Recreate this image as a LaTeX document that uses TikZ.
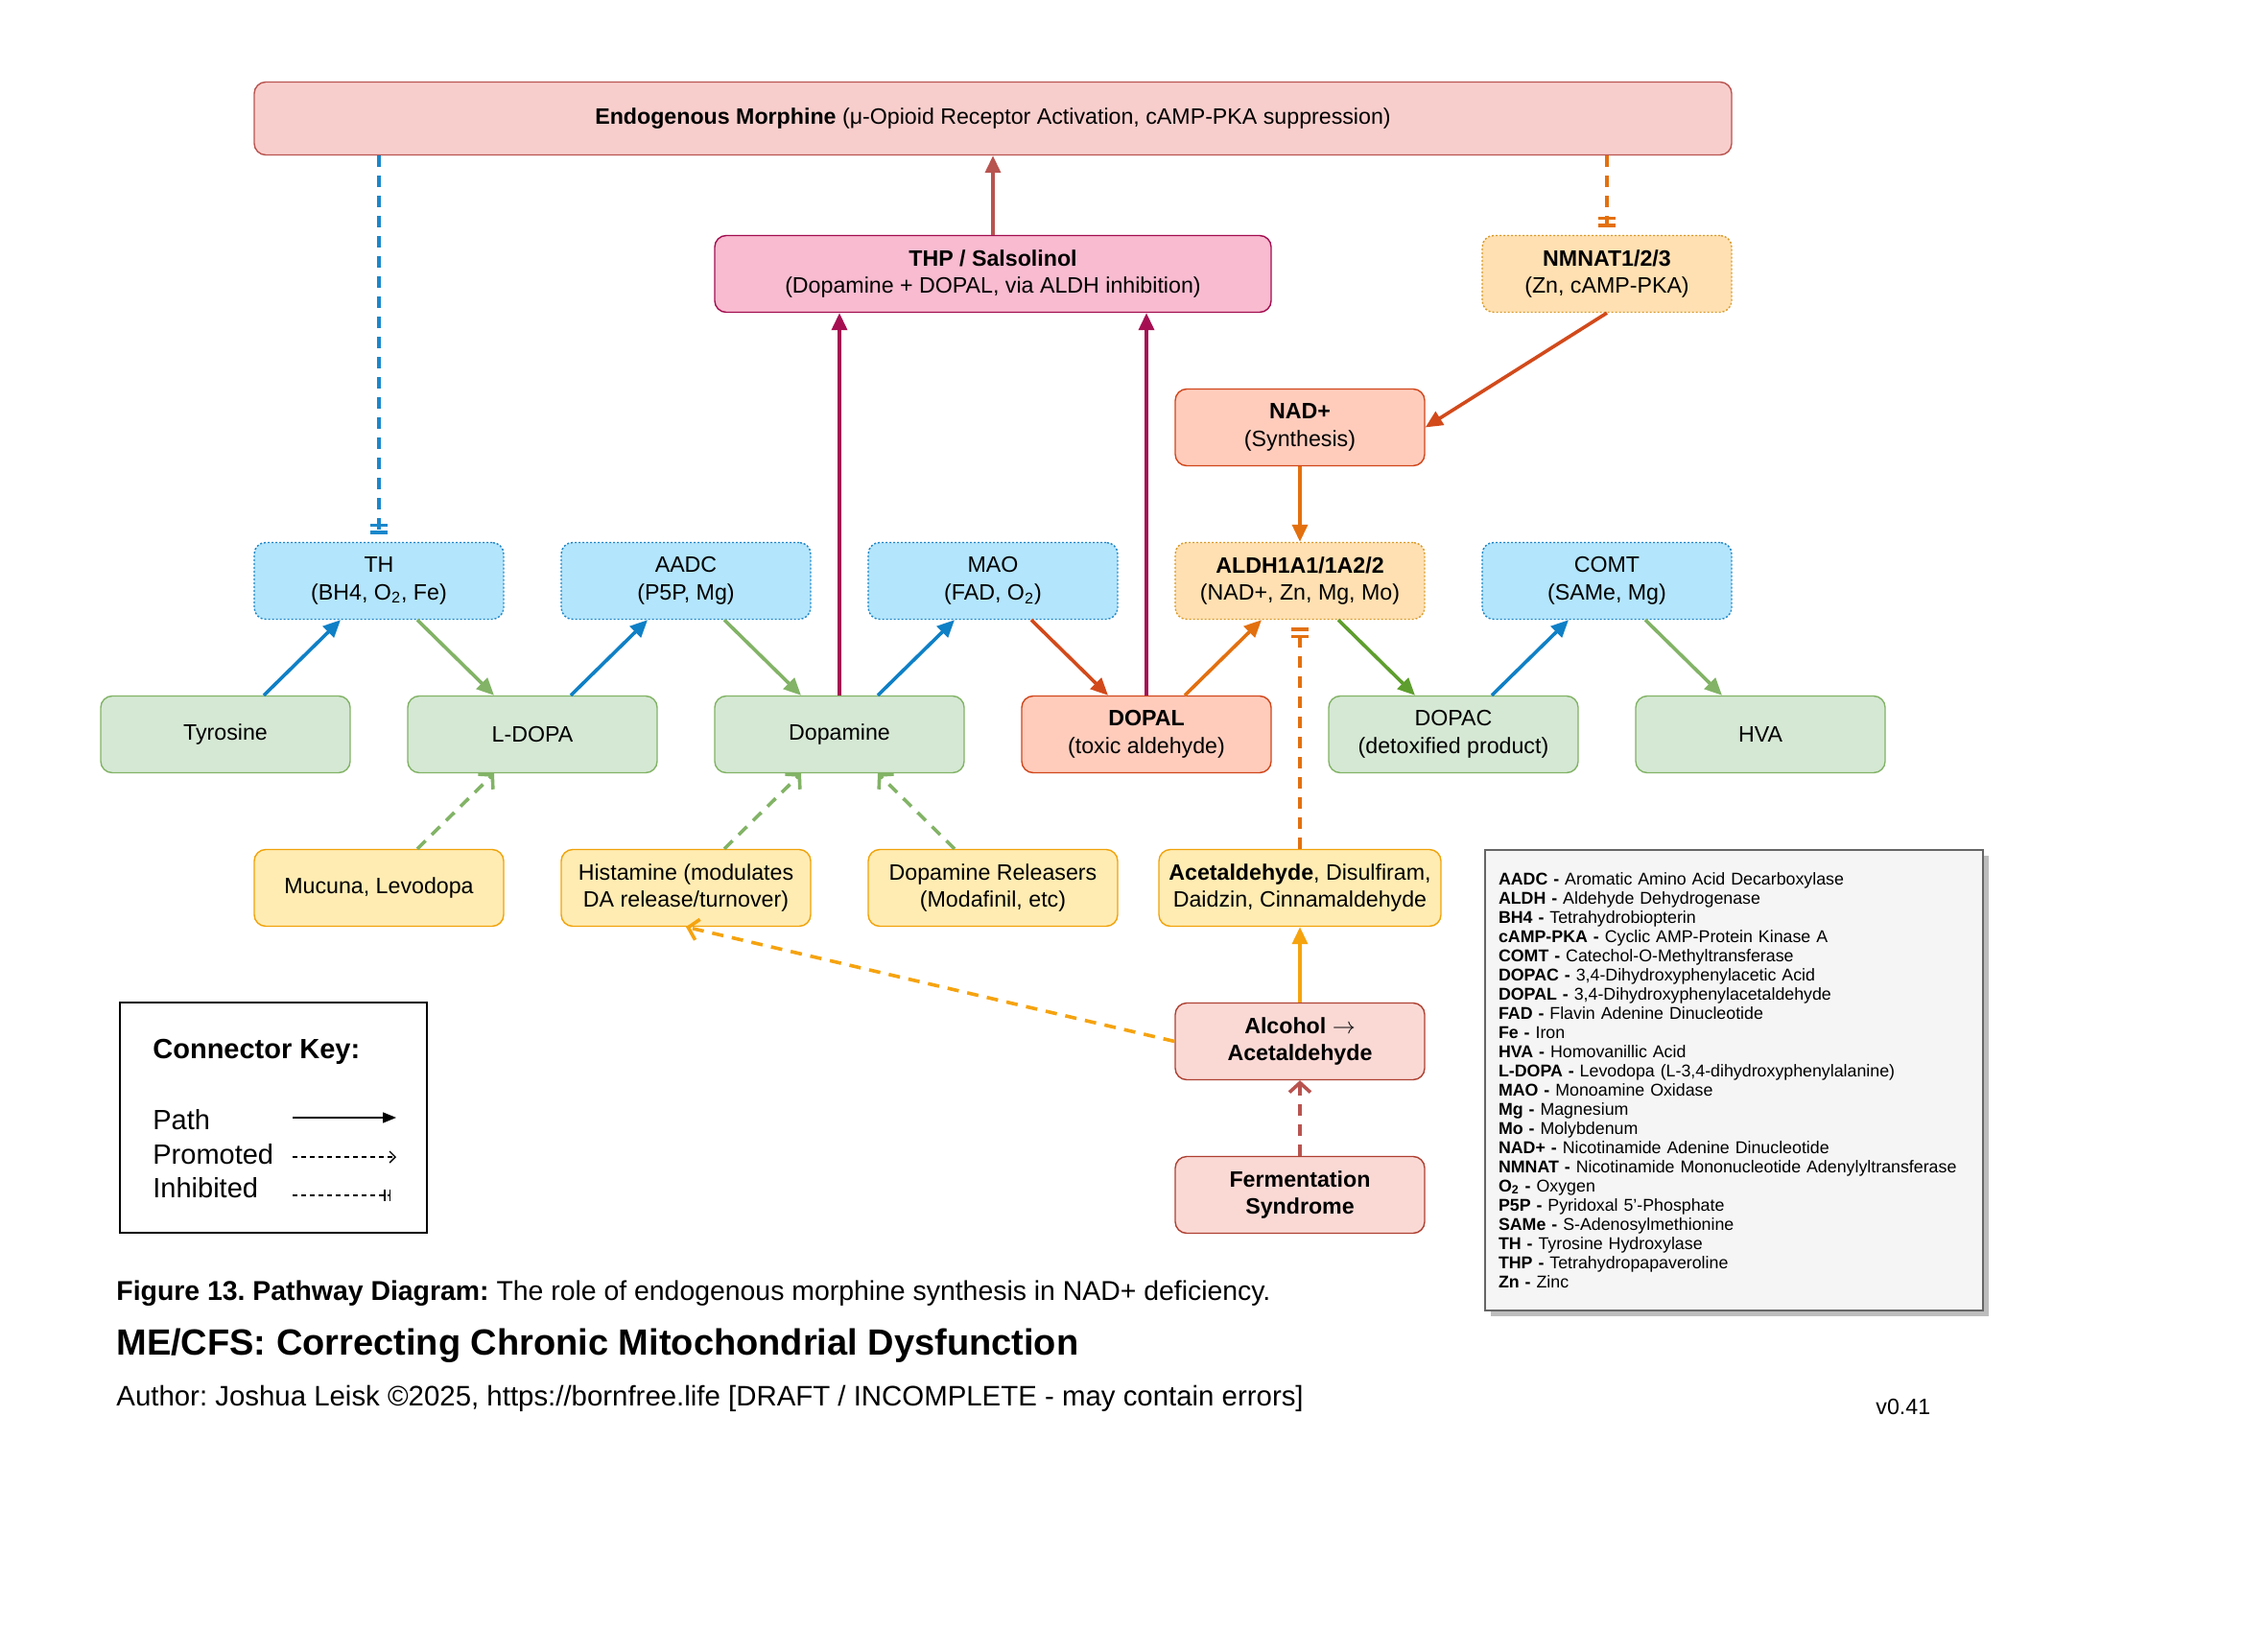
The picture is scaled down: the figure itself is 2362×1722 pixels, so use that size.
\documentclass[tikz,border=0pt]{standalone}
\usepackage{fontspec}
\setmainfont{Liberation Sans}
\usetikzlibrary{arrows.meta,shadows}

\definecolor{subfill}{HTML}{D5E8D4}
\definecolor{subline}{HTML}{82B366}
\definecolor{enzfill}{HTML}{B3E5FC}
\definecolor{enzline}{HTML}{1F86C6}
\definecolor{coffill}{HTML}{FFE0B2}
\definecolor{cofline}{HTML}{D99B2B}
\definecolor{toxfill}{HTML}{FFCCBC}
\definecolor{toxline}{HTML}{D0461B}
\definecolor{thpfill}{HTML}{F8BBD0}
\definecolor{thpline}{HTML}{A30E50}
\definecolor{topfill}{HTML}{F8CECC}
\definecolor{topline}{HTML}{B85450}
\definecolor{agentfill}{HTML}{FFECB3}
\definecolor{agentline}{HTML}{F0A30A}
\definecolor{srcfill}{HTML}{FAD9D5}
\definecolor{srcline}{HTML}{AE4132}
\definecolor{glossfill}{HTML}{F5F5F5}
\definecolor{glossline}{HTML}{666666}
\definecolor{shadowgray}{HTML}{BDBDBD}
\definecolor{arrblue}{HTML}{0F80C6}
\definecolor{dashblue}{HTML}{1A87CB}
\definecolor{arrgreen}{HTML}{82B366}
\definecolor{darkgreen}{HTML}{5E9E2E}
\definecolor{redorange}{HTML}{D24A1B}
\definecolor{arrorange}{HTML}{E3700F}
\definecolor{amber}{HTML}{F5A30F}
\definecolor{crimson}{HTML}{A50F52}
\definecolor{brownred}{HTML}{B85450}

\newcommand{\boxfont}{\fontsize{11.6}{14.3}\selectfont}
\frenchspacing

\tikzset{
    basebox/.style={rounded corners=6pt, minimum width=130pt, minimum height=40pt,
        inner sep=2pt, align=center, line width=0.7pt, font=\boxfont},
    substrate/.style={basebox, draw=subline, fill=subfill},
    enzyme/.style={basebox, draw=enzline, fill=enzfill, dash pattern=on 1pt off 1pt},
    cofactor/.style={basebox, draw=cofline, fill=coffill, dash pattern=on 1pt off 1pt},
    toxic/.style={basebox, draw=toxline, fill=toxfill},
    agent/.style={basebox, draw=agentline, fill=agentfill},
    source/.style={basebox, draw=srcline, fill=srcfill},
    flow/.style={line width=1.8pt, -{Triangle[length=9pt,width=8pt]}},
    promote/.style={line width=1.8pt, dash pattern=on 6pt off 4.5pt,
        -{Straight Barb[length=5pt,width=11pt]}},
    inhibit/.style={line width=1.8pt, dash pattern=on 6pt off 4.5pt,
        -{Bar[width=9pt,sep=2pt]Bar[width=9pt]}, shorten >=4pt},
    keyline/.style={line width=0.7pt},
    keytext/.style={anchor=west, inner sep=0pt, font=\fontsize{14.5}{17}\selectfont},
}

\begin{document}
\begin{tikzpicture}[x=0.5pt, y=-0.5pt]
    \useasboundingbox (0,0) rectangle (2362,1722);

    \node[basebox, draw=topline, fill=topfill, minimum width=770pt, minimum height=38pt] (morph) at (1035,123.5)
        {\textbf{Endogenous Morphine} (μ-Opioid Receptor Activation, cAMP-PKA suppression)};
    \node[basebox, draw=thpline, fill=thpfill, minimum width=290pt] (thp) at (1035,285.5)
        {\textbf{THP / Salsolinol}\\(Dopamine + DOPAL, via ALDH inhibition)};
    \node[cofactor] (nmnat) at (1675,285.5) {\textbf{NMNAT1/2/3}\\(Zn, cAMP-PKA)};
    \node[toxic] (nad) at (1355,445.5) {\textbf{NAD+}\\(Synthesis)};

    \node[enzyme] (th) at (395,605.5) {TH\\(BH4, O\textsubscript{2}, Fe)};
    \node[enzyme] (aadc) at (715,605.5) {AADC\\(P5P, Mg)};
    \node[enzyme] (mao) at (1035,605.5) {MAO\\(FAD, O\textsubscript{2})};
    \node[cofactor] (aldh) at (1355,605.5) {\textbf{ALDH1A1/1A2/2}\\(NAD+, Zn, Mg, Mo)};
    \node[enzyme] (comt) at (1675,605.5) {COMT\\(SAMe, Mg)};

    \node[substrate] (tyr) at (235,765.5) {Tyrosine};
    \node[substrate] (ldopa) at (555,765.5) {L-DOPA};
    \node[substrate] (dopa) at (875,765.5) {Dopamine};
    \node[toxic] (dopal) at (1195,765.5) {\textbf{DOPAL}\\(toxic aldehyde)};
    \node[substrate] (dopac) at (1515,765.5) {DOPAC\\(detoxified product)};
    \node[substrate] (hva) at (1835,765.5) {HVA};

    \node[agent] (mucuna) at (395,925.5) {Mucuna, Levodopa};
    \node[agent] (hist) at (715,925.5) {Histamine (modulates\\DA release/turnover)};
    \node[agent] (release) at (1035,925.5) {Dopamine Releasers\\(Modafinil, etc)};
    \node[agent, minimum width=147pt] (acet) at (1355,925.5)
        {\textbf{Acetaldehyde}, Disulfiram,\\Daidzin, Cinnamaldehyde};
    \node[source] (alc) at (1355,1085.5) {\textbf{Alcohol $\rightarrow$}\\\textbf{Acetaldehyde}};
    \node[source] (ferm) at (1355,1245.5) {\textbf{Fermentation}\\\textbf{Syndrome}};

    \draw[flow, brownred] (thp) -- (morph);
    \draw[inhibit, dashblue] (morph.south -| th.north) -- (th.north);
    \draw[inhibit, arrorange] (morph.south -| nmnat.north) -- (nmnat.north);
    \draw[flow, redorange] (nmnat.south) -- (nad.east);
    \draw[flow, arrorange] (nad) -- (aldh);
    \draw[flow, crimson] (dopa.north) -- (dopa.north |- thp.south);
    \draw[flow, crimson] (dopal.north) -- (dopal.north |- thp.south);

    \draw[flow, arrblue] ([xshift=20pt]tyr.north) -- ([xshift=-20pt]th.south);
    \draw[flow, arrgreen] ([xshift=20pt]th.south) -- ([xshift=-20pt]ldopa.north);
    \draw[flow, arrblue] ([xshift=20pt]ldopa.north) -- ([xshift=-20pt]aadc.south);
    \draw[flow, arrgreen] ([xshift=20pt]aadc.south) -- ([xshift=-20pt]dopa.north);
    \draw[flow, arrblue] ([xshift=20pt]dopa.north) -- ([xshift=-20pt]mao.south);
    \draw[flow, redorange] ([xshift=20pt]mao.south) -- ([xshift=-20pt]dopal.north);
    \draw[flow, arrorange] ([xshift=20pt]dopal.north) -- ([xshift=-20pt]aldh.south);
    \draw[flow, darkgreen] ([xshift=20pt]aldh.south) -- ([xshift=-20pt]dopac.north);
    \draw[flow, arrblue] ([xshift=20pt]dopac.north) -- ([xshift=-20pt]comt.south);
    \draw[flow, arrgreen] ([xshift=20pt]comt.south) -- ([xshift=-20pt]hva.north);

    \draw[promote, arrgreen] ([xshift=20pt]mucuna.north) -- ([xshift=-20pt]ldopa.south);
    \draw[promote, arrgreen] ([xshift=20pt]hist.north) -- ([xshift=-20pt]dopa.south);
    \draw[promote, arrgreen] ([xshift=-20pt]release.north) -- ([xshift=20pt]dopa.south);
    \draw[inhibit, arrorange] (acet) -- (aldh);
    \draw[flow, amber] (alc) -- (acet);
    \draw[promote, amber] (alc.west) -- (hist.south);
    \draw[promote, brownred] (ferm) -- (alc);

    \node[draw, line width=1pt, minimum width=160pt, minimum height=120pt] (key) at (285,1165) {};
    \node[keytext, font=\fontsize{14.5}{17}\selectfont\bfseries] (keyhead) at (159,1096) {Connector Key:};
    \node[keytext] (keypath) at (159,1167) {Path};
    \node[keytext] (keyprom) at (159,1203) {Promoted};
    \node[keytext] (keyinh) at (159,1238) {Inhibited};
    \coordinate (patha) at (305,1165);
    \coordinate (pathb) at (413,1165);
    \coordinate (proma) at (305,1206);
    \coordinate (promb) at (413,1206);
    \coordinate (inha) at (305,1246);
    \coordinate (inhb) at (407,1246);
    \draw[keyline, -{Triangle[length=7pt,width=5.5pt]}] (patha) -- (pathb);
    \draw[keyline, dash pattern=on 2.5pt off 2pt, -{Straight Barb[length=3pt,width=6pt]}] (proma) -- (promb);
    \draw[keyline, dash pattern=on 2.5pt off 2pt, -{Bar[width=6pt,sep=2pt]Bar[width=6pt]}] (inha) -- (inhb);

    \node[anchor=north west, draw=glossline, fill=glossfill, line width=1pt,
        drop shadow={shadow xshift=3pt, shadow yshift=-3pt, fill=shadowgray, opacity=1},
        minimum height=240pt, text width=245.5pt, inner xsep=7pt, align=left,
        font=\fontsize{8.9}{10}\selectfont] (gloss) at (1547,885) {%
        \textbf{AADC -} Aromatic Amino Acid Decarboxylase\\
        \textbf{ALDH -} Aldehyde Dehydrogenase\\
        \textbf{BH4 -} Tetrahydrobiopterin\\
        \textbf{cAMP-PKA -} Cyclic AMP-Protein Kinase A\\
        \textbf{COMT -} Catechol-O-Methyltransferase\\
        \textbf{DOPAC -} 3,4-Dihydroxyphenylacetic Acid\\
        \textbf{DOPAL -} 3,4-Dihydroxyphenylacetaldehyde\\
        \textbf{FAD -} Flavin Adenine Dinucleotide\\
        \textbf{Fe -} Iron\\
        \textbf{HVA -} Homovanillic Acid\\
        \textbf{L-DOPA -} Levodopa (L-3,4-dihydroxyphenylalanine)\\
        \textbf{MAO -} Monoamine Oxidase\\
        \textbf{Mg -} Magnesium\\
        \textbf{Mo -} Molybdenum\\
        \textbf{NAD+ -} Nicotinamide Adenine Dinucleotide\\
        \textbf{NMNAT -} Nicotinamide Mononucleotide Adenylyltransferase\\
        \textbf{O\textsubscript{2} -} Oxygen\\
        \textbf{P5P -} Pyridoxal 5’-Phosphate\\
        \textbf{SAMe -} S-Adenosylmethionine\\
        \textbf{TH -} Tyrosine Hydroxylase\\
        \textbf{THP -} Tetrahydropapaveroline\\
        \textbf{Zn -} Zinc};

    \node[anchor=west, inner sep=0pt, font=\fontsize{14.2}{17}\selectfont] (caption) at (121,1348)
        {\textbf{Figure 13. Pathway Diagram:} The role of endogenous morphine synthesis in NAD+ deficiency.};
    \node[anchor=west, inner sep=0pt, font=\fontsize{19}{22}\selectfont\bfseries] (title) at (121,1403)
        {ME/CFS: Correcting Chronic Mitochondrial Dysfunction};
    \node[anchor=west, inner sep=0pt, font=\fontsize{14.7}{17}\selectfont] (author) at (121,1458)
        {Author: Joshua Leisk ©2025, https://bornfree.life [DRAFT / INCOMPLETE - may contain errors]};
    \node[anchor=west, inner sep=0pt, font=\boxfont] (version) at (1955,1467) {v0.41};
\end{tikzpicture}
\end{document}
